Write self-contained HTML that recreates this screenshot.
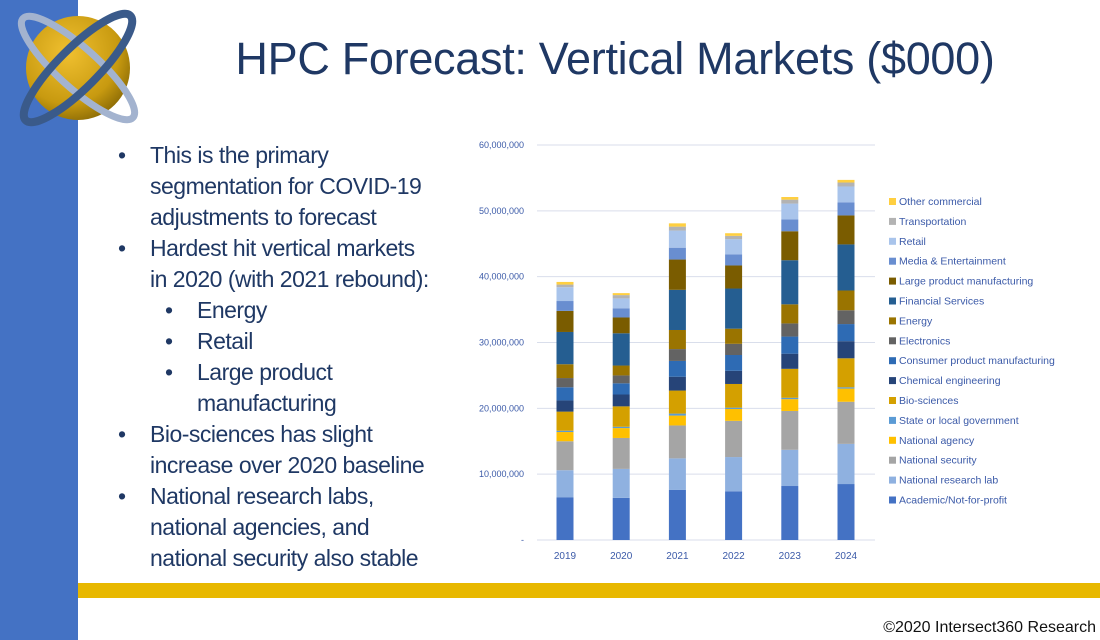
<!DOCTYPE html>
<html><head><meta charset="utf-8">
<style>
body{margin:0;width:1100px;height:640px;position:relative;background:#fff;overflow:hidden;font-family:"Liberation Sans",sans-serif;}
.strip{position:absolute;left:0;top:0;width:78px;height:640px;background:#4472c4;}
.band{position:absolute;left:78px;top:583px;width:1022px;height:15px;background:#e8b800;}
.title{position:absolute;left:140px;top:33px;width:950px;text-align:center;font-size:45px;color:#1f3864;letter-spacing:-0.3px;}
.bul{position:absolute;color:#1f3864;font-size:23px;line-height:31px;letter-spacing:-0.5px;}
.bul .d{position:absolute;left:-32px;}
.foot{position:absolute;right:4px;top:619px;font-size:16px;color:#111;}
</style></head><body>
<div class="strip"></div>
<svg style="position:absolute;left:8px;top:2px" width="140" height="130" viewBox="0 0 140 130">
<defs><radialGradient id="g" cx="0.4" cy="0.35" r="0.7"><stop offset="0" stop-color="#f0c030"/><stop offset="0.7" stop-color="#c89a10"/><stop offset="1" stop-color="#8a6a05"/></radialGradient></defs>
<circle cx="70" cy="66" r="52" fill="url(#g)"/>
<ellipse cx="70" cy="66" rx="74" ry="20" transform="rotate(42 70 66)" fill="none" stroke="#a3b3cf" stroke-width="7"/>
<ellipse cx="70" cy="66" rx="74" ry="20" transform="rotate(-45 70 66)" fill="none" stroke="#3a5a8a" stroke-width="8"/>
</svg>
<div class="title">HPC Forecast: Vertical Markets ($000)</div>
<div>
<div class="bul" style="left:150px;top:140px;"><span class="d">•</span>This is the primary<br>segmentation for COVID-19<br>adjustments to forecast</div>
<div class="bul" style="left:150px;top:233px;"><span class="d">•</span>Hardest hit vertical markets<br>in 2020 (with 2021 rebound):</div>
<div class="bul" style="left:197px;top:295px;"><span class="d">•</span>Energy</div>
<div class="bul" style="left:197px;top:326px;"><span class="d">•</span>Retail</div>
<div class="bul" style="left:197px;top:357px;"><span class="d">•</span>Large product<br>manufacturing</div>
<div class="bul" style="left:150px;top:419px;"><span class="d">•</span>Bio-sciences has slight<br>increase over 2020 baseline</div>
<div class="bul" style="left:150px;top:481px;"><span class="d">•</span>National research labs,<br>national agencies, and<br>national security also stable</div>
</div>
<svg id="chart" style="position:absolute;left:0;top:0" width="1100" height="640"></svg>
<div class="band"></div>
<div class="foot">©2020 Intersect360 Research</div>
<script>
const years=["2019","2020","2021","2022","2023","2024"];
const seriesNames=["Academic/Not-for-profit","National research lab","National security","National agency","State or local government","Bio-sciences","Chemical engineering","Consumer product manufacturing","Electronics","Energy","Financial Services","Large product manufacturing","Media & Entertainment","Retail","Transportation","Other commercial"];
const academic=[6.5,6.4,7.6,7.4,8.2,8.5];
const researchLab=[4.1,4.4,4.8,5.2,5.5,6.1];
const security=[4.4,4.7,5.0,5.5,5.9,6.4];
const agency=[1.4,1.5,1.5,1.8,1.8,2.0];
const stateLocal=[0.2,0.2,0.3,0.2,0.2,0.2];
const bio=[2.9,3.1,3.5,3.6,4.4,4.4];
const chemical=[1.7,1.8,2.1,2.0,2.3,2.6];
const consumer=[2.0,1.7,2.4,2.4,2.6,2.6];
const electronics=[1.4,1.2,1.8,1.7,2.0,2.1];
const energy=[2.1,1.5,2.9,2.3,2.9,3.0];
const financial=[4.9,4.9,6.1,6.1,6.7,7.0];
const largeProduct=[3.2,2.4,4.6,3.5,4.4,4.4];
const media=[1.5,1.4,1.8,1.7,1.8,2.0];
const retail=[2.1,1.5,2.6,2.3,2.4,2.4];
const transport=[0.4,0.5,0.6,0.5,0.6,0.6];
const other=[0.4,0.3,0.5,0.4,0.4,0.4];
const yTicks=[0,10,20,30,40,50,60];
const yTickLabels=["-","10,000,000","20,000,000","30,000,000","40,000,000","50,000,000","60,000,000"];
const series=[academic,researchLab,security,agency,stateLocal,bio,chemical,consumer,electronics,energy,financial,largeProduct,media,retail,transport,other];
const colors=["#4472c4","#8fb1e0","#a5a5a5","#ffc000","#5b9bd5","#d4a000","#264478","#2e6bb4","#636363","#9a7400","#255e91","#7a5c00","#698ed0","#a9c4eb","#b3b3b3","#ffcf40"];
const NS="http://www.w3.org/2000/svg";
const svg=document.getElementById('chart');
const y0=540,y1=145,vmax=60;
const yScale=v=>y0-(v/vmax)*(y0-y1);
const xScale=i=>565+i*56.2;
function mk(t,a){const e=document.createElementNS(NS,t);for(const k in a)e.setAttribute(k,a[k]);svg.appendChild(e);return e;}
yTicks.forEach((t,i)=>{
  const l=mk('line',{x1:537,x2:875,y1:yScale(t),y2:yScale(t),stroke:'#d9deeb','stroke-width':1});
  
  
  const tx=mk('text',{x:524,y:yScale(t)+3,'text-anchor':'end','font-size':9,fill:'#3b5aa8','font-family':'Liberation Sans, sans-serif'});
  tx.textContent=yTickLabels[i];
  
  
});
years.forEach((yr,i)=>{
  let acc=0;
  series.forEach((s,k)=>{
    const v=s[i];
    const r=mk('rect',{x:xScale(i)-8.5,y:yScale(acc+v),width:17,height:yScale(acc)-yScale(acc+v),fill:colors[k]});
    
    
    acc+=v;
  });
  const tx=mk('text',{x:xScale(i),y:559,'text-anchor':'middle','font-size':10,fill:'#3b5aa8','font-family':'Liberation Sans, sans-serif'});
  tx.textContent=yr;
  
  
});
for(let k=series.length-1;k>=0;k--){
  const idx=series.length-1-k;
  const cy=201+idx*19.9;
  const r=mk('rect',{x:889,y:cy-3,width:7,height:7,fill:colors[k]});
  
  
  const tx=mk('text',{x:899,y:cy+4,'font-size':10.5,fill:'#3b5aa8','font-family':'Liberation Sans, sans-serif'});
  tx.textContent=seriesNames[k];
  
  
}
</script>
</body></html>
